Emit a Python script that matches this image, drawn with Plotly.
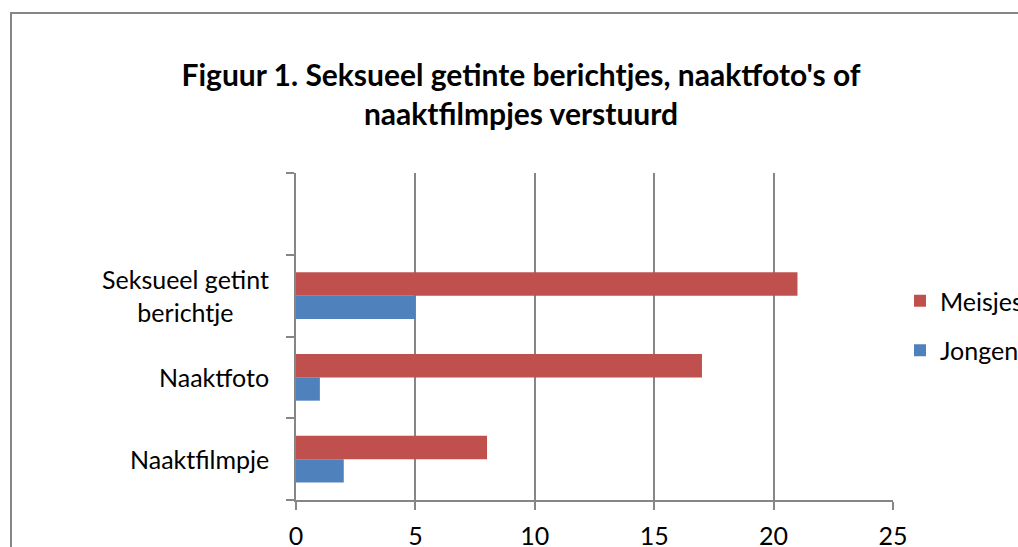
import plotly.graph_objects as go

categories = ["Naaktfilmpje", "Naaktfoto", "Seksueel getint berichtje"]
category_labels = ["Naaktfilmpje", "Naaktfoto", "Seksueel getint<br>berichtje"]
empty_category = " "
meisjes = [8, 17, 21]
jongens = [2, 1, 5]
x_ticks = [0, 5, 10, 15, 20, 25]
title_text = "Figuur 1. Seksueel getinte berichtjes, naaktfoto's of<br>naaktfilmpjes verstuurd"

FONT = "Lato"
GRID = "#868686"
FS = 25

fig = go.Figure()
fig.add_trace(go.Bar(y=categories, x=jongens, orientation="h", name="Jongens",
                     marker=dict(color="#4F81BD", line=dict(width=0)),
                     legendgroup="j", legendrank=2))
fig.add_trace(go.Bar(y=categories, x=meisjes, orientation="h", name="Meisjes",
                     marker=dict(color="#C0504D", line=dict(width=0)),
                     legendgroup="m", legendrank=1))

for cat, lab in zip(categories, category_labels):
    fig.add_annotation(x=0, y=cat, xref="x", yref="y", text=lab, showarrow=False,
                       xanchor="right", xshift=-25, align="center",
                       font=dict(family=FONT, size=FS, color="#000"))

# chart area border
fig.add_shape(type="rect", xref="paper", yref="paper",
              x0=(11 - 296) / 597, x1=2.0, y0=-1.0, y1=(500 - 13) / 327,
              line=dict(color=GRID, width=2), layer="below")

fig.update_layout(
    width=1018, height=547,
    margin=dict(l=296, r=125, t=173, b=47, autoexpand=False),
    paper_bgcolor="white", plot_bgcolor="white",
    barmode="group", bargap=0.43, bargroupgap=0,
    title=dict(text=title_text, x=521 / 1018, xanchor="center",
               y=1 - 86 / 547, yanchor="middle", yref="container",
               font=dict(family=FONT, size=30, color="#000", weight="bold")),
    font=dict(family=FONT, size=FS, color="#000"),
    xaxis=dict(range=[0, 25], tickvals=x_ticks, showgrid=True, gridcolor=GRID, gridwidth=2,
               showline=True, linecolor=GRID, linewidth=2, ticks="outside", ticklen=8,
               tickwidth=2, tickcolor=GRID, zeroline=False, ticklabelstandoff=5,
               tickfont=dict(family=FONT, size=FS, color="#000")),
    yaxis=dict(type="category", categoryorder="array",
               categoryarray=categories + [empty_category], range=[-0.5, 3.5],
               tickson="boundaries", ticks="outside", ticklen=8, tickwidth=2, tickcolor=GRID,
               showline=True, linecolor=GRID, linewidth=2, showgrid=False,
               showticklabels=False),
    legend=dict(x=1.0117, xanchor="left", y=(500 - 278) / 327, yanchor="top",
                traceorder="grouped", tracegroupgap=14, itemwidth=30,
                font=dict(family=FONT, size=FS, color="#000"), bgcolor="rgba(0,0,0,0)"),
    showlegend=True,
)

fig.write_html("out.html", config={"displayModeBar": False},
               post_script="document.body.style.margin='0px';document.body.style.overflow='hidden';")
